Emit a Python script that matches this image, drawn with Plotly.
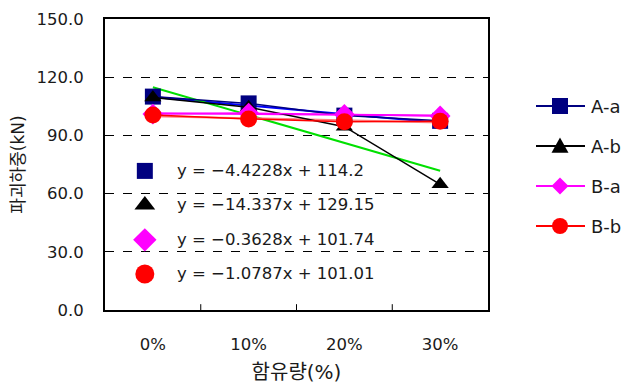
import plotly.graph_objects as go

categories = ["0%", "10%", "20%", "30%"]
series_names = ["A-a", "A-b", "B-a", "B-b"]
a_a = [110.0, 106.5, 100.2, 97.5]
a_b = [109.5, 104.5, 94.5, 64.8]
b_a = [101.0, 101.5, 100.8, 100.0]
b_b = [100.5, 98.5, 97.0, 97.3]
slopes = [-4.4228, -14.337, -0.3628, -1.0787]
intercepts = [114.2, 129.15, 101.74, 101.01]
equations = ["y = \u22124.4228x + 114.2", "y = \u221214.337x + 129.15",
             "y = \u22120.3628x + 101.74", "y = \u22121.0787x + 101.01"]
y_ticks = [0, 30, 60, 90, 120, 150]

values = [a_a, a_b, b_a, b_b]
line_colors = ["#000080", "#000000", "#FF00FF", "#FF0000"]
marker_colors = ["#000080", "#000000", "#FF00FF", "#FF0000"]
symbols = ["square", "triangle-up", "diamond", "circle"]
msizes = [16, 15, 16, 17]
eq_sizes = [16, 18, 18, 19]
trend_colors = ["#0000FF", "#00E000", "#FF00FF", "#FF8080"]

FONT = "DejaVu Sans, Noto Sans CJK KR, sans-serif"
TXT = "#1a1a1a"

W, H = 640, 390
ML, MR, MT, MB = 105, 152, 19, 80
PW, PH = W - ML - MR, H - MT - MB

fig = go.Figure()
xs = list(range(len(categories)))

# trendlines (under markers)
for i in range(4):
    tx = [1, 2, 3, 4]
    ty = [slopes[i] * t + intercepts[i] for t in tx]
    fig.add_trace(go.Scatter(x=[t - 1 for t in tx], y=ty, mode="lines",
                             line=dict(color=trend_colors[i], width=2),
                             showlegend=False, hoverinfo="skip"))

for i in range(4):
    fig.add_trace(go.Scatter(x=xs, y=values[i], mode="lines+markers", name=series_names[i],
                             line=dict(color=line_colors[i], width=1.5),
                             marker=dict(symbol=symbols[i], size=msizes[i], color=marker_colors[i]),
                             showlegend=False))

# equation markers + text
eq_y = [0.478, 0.361, 0.241, 0.124]
for i in range(4):
    fig.add_trace(go.Scatter(x=[0.104], y=[eq_y[i]], mode="markers", xaxis="x2", yaxis="y2",
                             marker=dict(symbol=symbols[i], size=eq_sizes[i], color=marker_colors[i]),
                             showlegend=False, hoverinfo="skip", cliponaxis=False))
    fig.add_annotation(x=0.182, y=eq_y[i], xref="paper", yref="paper", text=equations[i],
                       showarrow=False, xanchor="left", yanchor="middle",
                       font=dict(size=16.5, color=TXT, family=FONT))


def px_to_paper(px, py):
    return (px - ML) / PW, (H - MB - py) / PH


def marker_path(sym, cx, cy, r):
    if sym == "triangle-up":
        pts = [(cx, cy - r), (cx + r, cy + r * 0.8), (cx - r, cy + r * 0.8)]
    elif sym == "diamond":
        pts = [(cx, cy - r), (cx + r, cy), (cx, cy + r), (cx - r, cy)]
    else:
        pts = [(cx - r, cy - r), (cx + r, cy - r), (cx + r, cy + r), (cx - r, cy + r)]
    conv = [px_to_paper(a, b) for a, b in pts]
    return "M" + " L".join(f"{a:.5f},{b:.5f}" for a, b in conv) + " Z"


# custom legend on the right (pixel layout)
leg_py = [106, 146, 186, 226]
leg_r = [8, 8.5, 8.5, 8]
for i in range(4):
    x0, y = px_to_paper(536, leg_py[i])
    x1, _ = px_to_paper(585, leg_py[i])
    fig.add_shape(type="line", xref="paper", yref="paper", x0=x0, x1=x1, y0=y, y1=y,
                  line=dict(color=line_colors[i], width=2))
    cx, cy, r = 560, leg_py[i], leg_r[i]
    if symbols[i] == "circle":
        ax0, ay0 = px_to_paper(cx - r, cy + r)
        ax1, ay1 = px_to_paper(cx + r, cy - r)
        fig.add_shape(type="circle", xref="paper", yref="paper", x0=ax0, y0=ay0, x1=ax1, y1=ay1,
                      fillcolor=marker_colors[i], line=dict(width=0))
    else:
        fig.add_shape(type="path", xref="paper", yref="paper",
                      path=marker_path(symbols[i], cx, cy, r),
                      fillcolor=marker_colors[i], line=dict(width=0))
    tx, ty = px_to_paper(589, leg_py[i])
    fig.add_annotation(x=tx, y=ty, xref="paper", yref="paper", text=series_names[i],
                       showarrow=False, xanchor="left", yanchor="middle",
                       font=dict(size=18, color=TXT, family=FONT))

fig.update_layout(
    width=W, height=H,
    margin=dict(l=ML, r=MR, t=MT, b=MB, autoexpand=False),
    paper_bgcolor="white", plot_bgcolor="white",
    font=dict(family=FONT, color=TXT, size=17),
    showlegend=False,
    xaxis=dict(range=[-0.5, 3.5], tickvals=xs, ticktext=categories, ticks="",
               showgrid=False, zeroline=False, showline=True, linecolor="black", linewidth=2,
               mirror=True, ticklabelstandoff=18, automargin=False,
               title=dict(text="함유량(%)", font=dict(size=20), standoff=12),
               tickfont=dict(size=16.5)),
    yaxis=dict(range=[0, 150], tickvals=y_ticks, ticktext=[f"{v:.1f}" for v in y_ticks],
               showgrid=True, gridcolor="black", griddash="dash", gridwidth=1,
               zeroline=False, showline=True, linecolor="black", linewidth=2, mirror=True,
               ticks="", ticklabelstandoff=16, automargin=False,
               title=dict(text="파괴하중(kN)", font=dict(size=17), standoff=8),
               tickfont=dict(size=16.5)),
    xaxis2=dict(range=[0, 1], overlaying="x", visible=False, fixedrange=True),
    yaxis2=dict(range=[0, 1], overlaying="y", visible=False, fixedrange=True),
)

# tick marks at category boundaries (inside, from bottom)
for b in [0.5, 1.5, 2.5]:
    fig.add_shape(type="line", xref="x", yref="paper", x0=b, x1=b, y0=0, y1=0.02,
                  line=dict(color="black", width=1))

fig.write_html("out.html")
